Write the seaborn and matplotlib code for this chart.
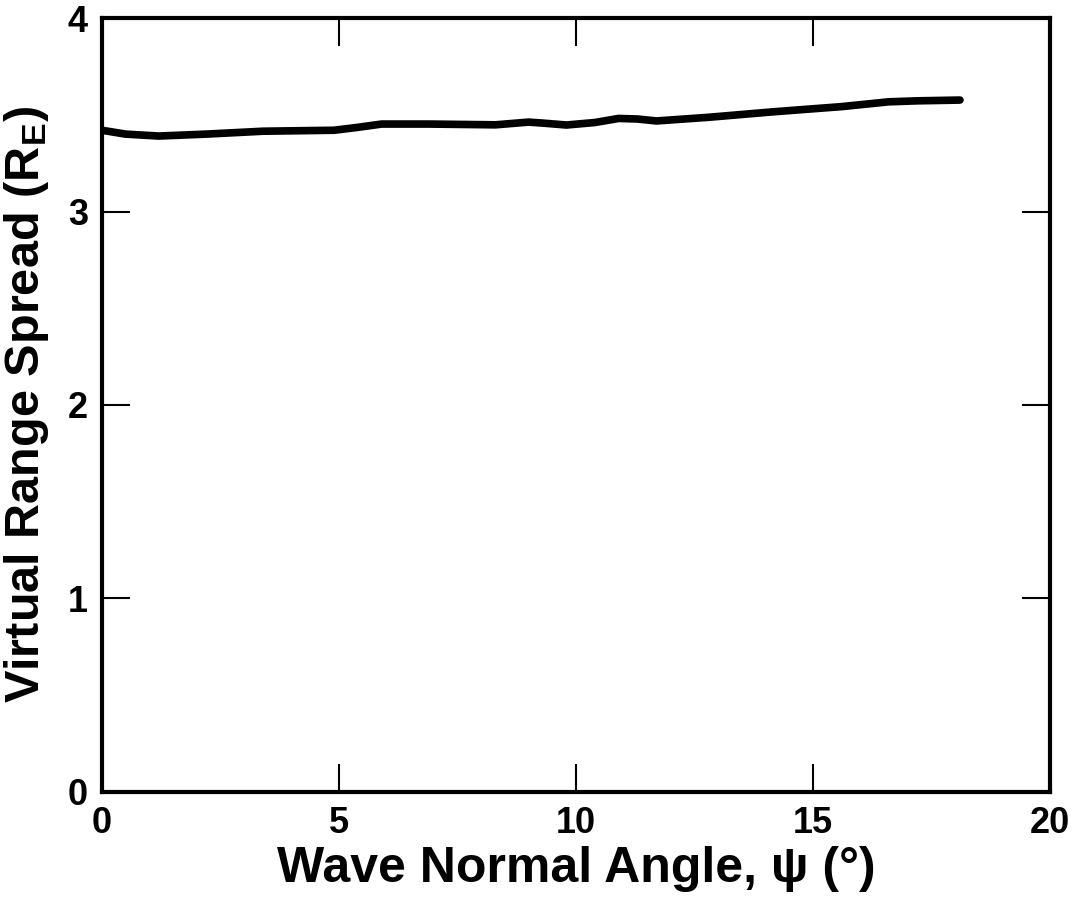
import matplotlib
matplotlib.use('Agg')
import matplotlib.pyplot as plt
import seaborn as sns
import pandas as pd

# values
angle = [0.0, 0.5, 1.2, 2.2, 3.4, 4.9, 5.4, 5.9, 6.9, 8.3, 9.0, 9.3, 9.8,
         10.4, 10.9, 11.3, 11.7, 12.8, 14.2, 15.6, 16.6, 17.2, 18.1]
spread = [3.42, 3.40, 3.39, 3.40, 3.415, 3.42, 3.435, 3.452, 3.452, 3.448, 3.462,
          3.457, 3.447, 3.46, 3.481, 3.478, 3.468, 3.487, 3.516, 3.542, 3.567, 3.572, 3.576]

df = pd.DataFrame({'angle': angle, 'spread': spread})

sns.set_style('ticks')
plt.rcParams['font.family'] = ['Liberation Sans', 'DejaVu Sans']
plt.rcParams['mathtext.fontset'] = 'custom'
plt.rcParams['mathtext.rm'] = 'Liberation Sans:bold'
plt.rcParams['mathtext.it'] = 'Liberation Sans:bold'
plt.rcParams['text.color'] = 'black'
plt.rcParams['axes.labelcolor'] = 'black'
plt.rcParams['xtick.color'] = 'black'
plt.rcParams['ytick.color'] = 'black'
plt.rcParams['axes.edgecolor'] = 'black'

fig = plt.figure(figsize=(10.72, 9.01), dpi=100)
ax = fig.add_axes([0.095, 0.121, 0.8845, 0.859])

sns.lineplot(data=df, x='angle', y='spread', color='black', linewidth=5.5, ax=ax)

ax.set_xlim(0, 20)
ax.set_ylim(0, 4)
ax.set_xticks([0, 5, 10, 15, 20])
ax.set_yticks([0, 1, 2, 3, 4])
ax.tick_params(direction='in', length=20, width=1.5, top=True, right=True,
               labelsize=26, pad=10)
for lab in ax.get_xticklabels() + ax.get_yticklabels():
    lab.set_fontweight('bold')
for s in ax.spines.values():
    s.set_linewidth(3)
    s.set_visible(True)

ax.set_xlabel('Wave Normal Angle, \u03c8 (\u00b0)', fontsize=36, fontweight='bold',
              labelpad=4)
ax.set_ylabel('Virtual Range Spread (R$_\\mathregular{E}$)', fontsize=35,
              fontweight='bold', labelpad=12)

fig.savefig('out.png', dpi=100)
